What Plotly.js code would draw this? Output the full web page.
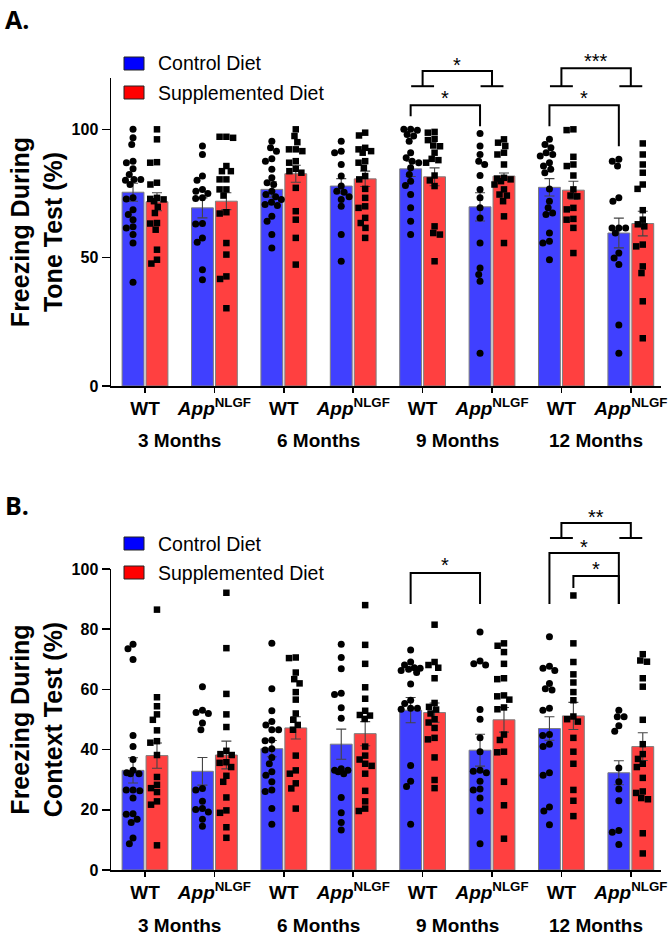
<!DOCTYPE html>
<html><head><meta charset="utf-8">
<script src="https://cdn.plot.ly/plotly-3.0.1.min.js"></script>
<style>html,body{margin:0;padding:0;background:#fff}#chart{width:672px;height:940px}</style>
</head><body><div id="chart"></div>
<script>
// ---------------- DATA ----------------
const positions = [0, 1, 2, 3, 4, 5, 6, 7];
const genotypeLabels = ['WT', '<i>App</i><sup>NLGF</sup>', 'WT', '<i>App</i><sup>NLGF</sup>',
                        'WT', '<i>App</i><sup>NLGF</sup>', 'WT', '<i>App</i><sup>NLGF</sup>'];
const monthLabels = ['3 Months', '6 Months', '9 Months', '12 Months'];
const seriesNames = ['Control Diet', 'Supplemented Diet'];

// Panel A: Freezing during tone test (%)
const toneControlMean = [75.5, 69.4, 76.6, 77.9, 84.6, 69.8, 77.4, 59.6];
const toneControlSem  = [3.5, 3.9, 3.0, 2.9, 3.0, 5.5, 3.4, 5.8];
const toneSupplMean   = [71.8, 72.0, 82.7, 80.7, 81.5, 81.8, 76.3, 63.3];
const toneSupplSem    = [3.5, 3.3, 3.3, 3.0, 3.5, 1.2, 3.5, 4.8];

const toneControlPoints = [
  [100, 96.7, 94.1, 87.6, 87, 84.6, 82.4, 80.5, 80.5, 80.2, 78.5, 73.3, 72.9, 68.7, 66.8, 64.8, 62, 61.6, 59, 55.7, 40.4],
  [93.5, 90.2, 81.8, 80.2, 76.6, 75.9, 75, 73.3, 73.1, 63.3, 63.1, 57.7, 56, 45.3, 41.4],
  [95.4, 92.8, 91.5, 88.5, 87.6, 84.4, 81.1, 79.2, 78.5, 75.9, 74.6, 73.7, 72.7, 71.6, 70.7, 70.3, 66.1, 64.2, 59, 53.8],
  [95.4, 91.5, 90.9, 86.3, 81.8, 77.9, 75.9, 75.5, 73.7, 72.7, 70, 59, 48.6],
  [100, 100, 99.6, 98, 97.4, 95.4, 90.9, 88.9, 87.6, 87, 85, 82.4, 79.8, 78.1, 74.6, 69.4, 64.2, 59],
  [98.4, 93.5, 90.2, 87.6, 86.3, 82, 76.6, 73.3, 69.4, 65.5, 55.7, 46, 43.4, 40.8, 12.8],
  [96.1, 94.1, 92.8, 90.9, 90.2, 89.6, 87, 85.7, 84.4, 83.1, 76.8, 72, 69.4, 67.4, 66.8, 59.6, 56.4, 55.7, 49.2],
  [88.3, 87.6, 85.7, 73.3, 72, 61.6, 61.6, 61.6, 59.6, 51.8, 49.9, 47.3, 23.8, 12.8]
];
const toneSupplPoints = [
  [100, 96.1, 87.2, 87, 79.2, 78.5, 73.3, 72.9, 72.7, 72, 69.8, 67.4, 63.5, 63.3, 60.9, 53.1, 49.2, 47.7],
  [97.1, 97.1, 96.7, 85.7, 83.7, 83.7, 80.5, 80.5, 76.6, 76.6, 74.2, 67.7, 67.2, 55.7, 51.2, 42.7, 41.7, 30.3],
  [100, 97.4, 95, 92.2, 92.2, 91.5, 87.6, 87, 84.6, 83.7, 83.1, 77.2, 68.1, 64.8, 57.7, 47.3],
  [98.7, 97.6, 92.8, 92.2, 91.5, 90.9, 87.6, 87, 85, 81.8, 80.5, 76.8, 73.3, 70, 69.4, 65.5, 63.5, 61.6, 57.7],
  [99, 98.7, 96.3, 95.8, 93.7, 93.4, 90.9, 88.5, 88, 87, 82, 80.1, 77.9, 62.2, 59.6, 59, 48.6],
  [96.1, 94.8, 93.5, 90.9, 90.2, 86.3, 81.1, 80.8, 80.5, 79.8, 78.5, 76.6, 74.6, 74.2, 72, 66.1, 55.7],
  [100, 99.7, 89.3, 86.3, 85.7, 82, 76.6, 74.2, 73.9, 69.4, 68.8, 65.1, 64.8, 61.6, 51.8],
  [94.5, 90.2, 86.3, 83.1, 78.5, 76.8, 68.5, 64.8, 63, 62.2, 55.1, 54.4, 46.6, 44, 33, 18.6]
];

// Panel B: Freezing during context test (%)
const ctxControlMean = [33.1, 32.8, 40.3, 41.8, 53.1, 39.8, 47.0, 32.3];
const ctxControlSem  = [4.2, 4.6, 2.7, 5.0, 4.2, 5.3, 3.9, 4.0];
const ctxSupplMean   = [38.0, 38.2, 47.2, 45.3, 52.3, 49.9, 51.2, 41.0];
const ctxSupplSem    = [4.2, 4.6, 3.7, 4.0, 3.2, 4.1, 4.5, 4.6];

const ctxControlPoints = [
  [75, 73.5, 69.9, 44.7, 41, 36.7, 33.1, 32, 32, 32.3, 26.6, 26.3, 26.6, 23.9, 18.7, 18.5, 16.9, 15.8, 10.6, 8.7],
  [60.9, 53.1, 52.3, 52, 48.8, 46.6, 27.1, 26.6, 22.8, 20.1, 20.4, 19.3, 16.9, 14.5],
  [75.3, 60.2, 52.9, 49.3, 48.2, 46.6, 46.6, 43.2, 42.9, 40.3, 39.9, 37.4, 35.3, 32.6, 31.5, 29.3, 26.6, 26.1, 20.4, 15.2],
  [75, 70.6, 66.9, 58.7, 58.3, 53.9, 50.4, 33.6, 33.1, 33.1, 32.6, 32, 24.1, 19, 15.8, 13.3],
  [73.1, 69.1, 68.1, 67.2, 67, 66.7, 66.3, 65.6, 61.8, 56.4, 55.3, 53.7, 53.7, 53.4, 34.7, 29.5, 27.7, 15.2],
  [79.1, 69.4, 68.5, 68.1, 53.3, 50.1, 43.9, 39.3, 33.1, 32.8, 32.3, 29.5, 26.9, 26.6, 23.9, 19.6, 8.7],
  [77.5, 67.7, 67, 66.3, 62, 60.2, 59.8, 53.7, 53.1, 45, 44.7, 41.8, 41, 32.3, 31.5, 20.9, 19.6, 15],
  [53.1, 50.9, 50.9, 47.9, 46.1, 33.9, 29.3, 26.9, 23, 13.1, 12.5, 8.5]
];
const ctxSupplPoints = [
  [86.5, 57.4, 54.4, 51.7, 49.9, 46.4, 42.8, 42.3, 38.2, 30.9, 28.3, 27.2, 25.9, 22.8, 21.7, 8.2],
  [92.1, 73.7, 58.5, 51.7, 47.5, 39.6, 38.5, 38.2, 35.8, 35.6, 34.2, 31.3, 29.3, 24.1, 19.8, 19, 14.2, 10.7],
  [70.6, 70.4, 65.6, 63.4, 62, 59.1, 56.6, 52, 49.9, 48.2, 46.6, 38, 33.1, 32, 28.8, 27.1, 20.4],
  [88, 74.8, 68.5, 60.7, 56.9, 52.9, 51.5, 51.3, 50.2, 41, 38, 36.7, 35.3, 34.6, 32, 26.3, 22.8, 20.4, 19.6],
  [81.5, 69.1, 68.1, 67.2, 63.7, 55.5, 54.2, 53.3, 52, 50.1, 49, 47.2, 43.9, 43.4, 37.4, 29.9, 27.2],
  [75.3, 74.5, 72.4, 68.5, 63.7, 63.4, 58, 57.7, 56.6, 54, 53.4, 45, 43.2, 39.3, 39.1, 29.3, 21.5, 10.4],
  [91.2, 75.3, 69.1, 65, 62.3, 59.1, 56.4, 51, 50.1, 49.3, 43.9, 39.3, 35.3, 26.6, 23, 17.9],
  [71.7, 69.6, 69.2, 63.7, 60.9, 49.9, 41.8, 38.5, 36.9, 35.3, 34.2, 30.6, 26.1, 25.6, 23.9, 23.5, 12.2, 5.5]
];

// Significance comparisons: side -1 = control bar, +1 = supplemented bar, 0 = genotype group
const toneComparisons = [
  {a: [4, 0], b: [5, 0], top: 122.7, endA: 116.8, endB: 116.8, feet: true, label: '*', labelY: 127},
  {a: [4, -1], b: [5, -1], top: 109.4, endA: 105.1, endB: 101.2, label: '*', labelY: 114},
  {a: [6, 0], b: [7, 0], top: 123.8, endA: 116.8, endB: 116.8, feet: true, label: '***', labelY: 128.5},
  {a: [6, -1], b: [7, -1], top: 109.4, endA: 101.2, endB: 93.4, label: '*', labelY: 114}
];
const ctxComparisons = [
  {a: [4, -1], b: [5, -1], top: 98.7, endA: 88.4, endB: 88.4, label: '*', labelY: 103},
  {a: [6, 0], b: [7, 0], top: 115.3, endA: 110.3, endB: 110.3, feet: true, label: '**', labelY: 118.9},
  {a: [6, -1], b: [7, -1], top: 105.3, endA: 88.4, endB: 88.4, label: '*', labelY: 109},
  {a: [6, 1], b: [7, -1], top: 97.7, endA: 93.7, endB: 88.4, label: '*', labelY: 101.7}
];

// ---------------- GEOMETRY / STYLE ----------------
const W = 672, H = 940;
const FONT = 'Liberation Sans, Arial, Helvetica, sans-serif';
const BLUE = 'rgb(64,64,255)', RED = 'rgb(255,64,64)';
const xDomPx = [111, 661];
const xRange = [-0.49, 7.435];
const xPxPerUnit = (xDomPx[1] - xDomPx[0]) / (xRange[1] - xRange[0]);
const BW = 0.315, GAP = 0.015;
const sideOffset = GAP + BW / 2;
const P = py => 1 - py / H;

const panelA = {zeroPx: 386, topPx: 78, max: 120, ticks: [0, 50, 100], extTopPx: 40,
  title: 'Freezing During<br>Tone Test (%)'};
const panelB = {zeroPx: 870, topPx: 569, max: 100, ticks: [0, 20, 40, 60, 80, 100], extTopPx: 492,
  title: 'Freezing During<br>Context Test (%)'};
[panelA, panelB].forEach(p => { p.pxPerY = (p.zeroPx - p.topPx) / p.max; });

function swarm(vals, pxPerY, d, maxW) {
  const order = vals.map((v, i) => i).sort((a, b) => vals[b] - vals[a]);
  const placed = [], off = new Array(vals.length).fill(0);
  order.forEach(i => {
    const y = vals[i] * pxPerY;
    const near = placed.filter(p => Math.abs(p.y - y) < d);
    const cands = [0];
    near.forEach(p => {
      const dx = Math.sqrt(d * d - (p.y - y) ** 2);
      cands.push(p.x + dx, p.x - dx);
    });
    cands.sort((a, b) => Math.abs(a) - Math.abs(b) || a - b);
    let best = null;
    for (const c of cands) {
      if (Math.abs(c) > maxW + 1e-6) continue;
      if (near.every(p => (p.x - c) ** 2 + (p.y - y) ** 2 >= d * d - 1e-6)) { best = c; break; }
    }
    if (best === null) {
      let score = -1;
      for (let c = -maxW; c <= maxW + 1e-9; c += 0.5) {
        const m = Math.min(...near.map(p => Math.hypot(p.x - c, p.y - y)));
        if (m > score) { score = m; best = c; }
      }
    }
    off[i] = best;
    placed.push({x: best, y});
  });
  return off;
}

function pointsTrace(groups, side, panel, xa, ya, symbol, name) {
  const xs = [], ys = [];
  groups.forEach((vals, g) => {
    const off = swarm(vals, panel.pxPerY, 6.8, 9.5);
    vals.forEach((v, i) => { xs.push(positions[g] + side * sideOffset + off[i] / xPxPerUnit); ys.push(v); });
  });
  return {type: 'scatter', mode: 'markers', x: xs, y: ys, xaxis: xa, yaxis: ya, cliponaxis: false, name,
    marker: {symbol, size: symbol === 'square' ? 6.5 : 7, color: '#000'}, hoverinfo: 'y', showlegend: false};
}

function barTrace(mean, sem, side, xa, ya, color, name) {
  return {type: 'bar', x: positions, y: mean, xaxis: xa, yaxis: ya, name,
    width: BW, offset: side < 0 ? -(GAP + BW) : GAP,
    marker: {color, line: {color: 'rgb(125,125,125)', width: 1}},
    error_y: {type: 'data', array: sem, visible: true, color: '#444', thickness: 1.1, width: 5},
    showlegend: false};
}

const traces = [
  barTrace(toneControlMean, toneControlSem, -1, 'x', 'y', BLUE, seriesNames[0]),
  barTrace(toneSupplMean, toneSupplSem, 1, 'x', 'y', RED, seriesNames[1]),
  pointsTrace(toneControlPoints, -1, panelA, 'x', 'y', 'circle', seriesNames[0]),
  pointsTrace(toneSupplPoints, 1, panelA, 'x', 'y', 'square', seriesNames[1]),
  barTrace(ctxControlMean, ctxControlSem, -1, 'x2', 'y2', BLUE, seriesNames[0]),
  barTrace(ctxSupplMean, ctxSupplSem, 1, 'x2', 'y2', RED, seriesNames[1]),
  pointsTrace(ctxControlPoints, -1, panelB, 'x2', 'y2', 'circle', seriesNames[0]),
  pointsTrace(ctxSupplPoints, 1, panelB, 'x2', 'y2', 'square', seriesNames[1]),
  {type: 'scatter', x: [null], y: [null], xaxis: 'x3', yaxis: 'y3', showlegend: false, hoverinfo: 'skip'},
  {type: 'scatter', x: [null], y: [null], xaxis: 'x4', yaxis: 'y4', showlegend: false, hoverinfo: 'skip'}
];

function xAxisCfg(anchor) {
  return {domain: [xDomPx[0] / W, xDomPx[1] / W], range: xRange, anchor,
    tickmode: 'array', tickvals: positions, ticktext: genotypeLabels.map(t => '<b>' + t + '</b>'),
    ticks: 'outside', ticklen: 5, tickwidth: 1.5, tickcolor: '#000',
    showline: true, linewidth: 1.5, linecolor: '#000', showgrid: false, zeroline: false,
    tickfont: {family: FONT, size: 19, color: '#000'}, fixedrange: true};
}
function yAxisCfg(p, anchor) {
  return {domain: [P(p.zeroPx), P(p.topPx)], range: [0, p.max], anchor,
    tickmode: 'array', tickvals: p.ticks, ticktext: p.ticks.map(t => '<b>' + t + '</b>'),
    ticks: 'outside', ticklen: 8, tickwidth: 1.5, tickcolor: '#000',
    showline: true, linewidth: 1.5, linecolor: '#000', showgrid: false, zeroline: false,
    tickfont: {family: FONT, size: 16, color: '#000'},
    title: {text: '<b>' + p.title.replace('<br>', '</b><br><b>') + '</b>',
      font: {family: FONT, size: 25, color: '#000'}, standoff: 2}, fixedrange: true};
}
function hiddenX(anchor) {
  return {domain: [xDomPx[0] / W, xDomPx[1] / W], range: xRange, anchor, visible: false, fixedrange: true};
}
function hiddenY(p, anchor) {
  return {domain: [P(p.zeroPx), P(p.extTopPx)], range: [0, (p.zeroPx - p.extTopPx) / p.pxPerY],
    anchor, visible: false, fixedrange: true};
}

const shapes = [], annotations = [];
function addComparisons(list, xa, ya) {
  const footHalf = 0.165;
  list.forEach(c => {
    const xa0 = positions[c.a[0]] + c.a[1] * sideOffset;
    const xb0 = positions[c.b[0]] + c.b[1] * sideOffset;
    shapes.push({type: 'path', xref: xa, yref: ya,
      path: `M${xa0},${c.endA} L${xa0},${c.top} L${xb0},${c.top} L${xb0},${c.endB}`,
      line: {color: '#000', width: 2}});
    if (c.feet) {
      [xa0, xb0].forEach((xx, k) => {
        const e = k === 0 ? c.endA : c.endB;
        shapes.push({type: 'line', xref: xa, yref: ya, x0: xx - footHalf, x1: xx + footHalf, y0: e, y1: e,
          line: {color: '#000', width: 2}});
      });
    }
    annotations.push({xref: xa, yref: ya, x: (xa0 + xb0) / 2, y: c.labelY, text: c.label, showarrow: false,
      xanchor: 'center', yanchor: 'middle', yshift: -5, font: {family: FONT, size: 20, color: '#000'}});
  });
}
addComparisons(toneComparisons, 'x3', 'y3');
addComparisons(ctxComparisons, 'x4', 'y4');

function addLegend(topPx) {
  const colors = ['rgb(0,0,255)', 'rgb(255,0,0)'];
  seriesNames.forEach((n, k) => {
    const t = topPx + k * 29;
    shapes.push({type: 'rect', xref: 'paper', yref: 'paper', x0: 124 / W, x1: 144 / W, y0: P(t + 13), y1: P(t),
      fillcolor: colors[k], line: {color: '#222', width: 1}});
    annotations.push({xref: 'paper', yref: 'paper', x: 156 / W, y: P(t + 6.5), xanchor: 'left', yanchor: 'middle',
      text: n, showarrow: false, font: {family: FONT, size: 19.5, color: '#000'}});
  });
}
addLegend(57);
addLegend(537);

function addMonths(xa, ya) {
  monthLabels.forEach((m, k) => {
    annotations.push({xref: xa, yref: ya + ' domain', x: positions[2 * k] + 0.5, y: 0, yshift: -55,
      xanchor: 'center', yanchor: 'middle', text: '<b>' + m + '</b>', showarrow: false,
      font: {family: FONT, size: 19, color: '#000'}});
  });
}
addMonths('x', 'y');
addMonths('x2', 'y2');

annotations.push({xref: 'paper', yref: 'paper', x: 3 / W, y: P(0), xanchor: 'left', yanchor: 'top',
  text: '<b>A.</b>', showarrow: false, font: {family: 'Open Sans, Liberation Sans, Arial', size: 25, color: '#000'}});
annotations.push({xref: 'paper', yref: 'paper', x: 3 / W, y: P(486), xanchor: 'left', yanchor: 'top',
  text: '<b>B.</b>', showarrow: false, font: {family: 'Open Sans, Liberation Sans, Arial', size: 25, color: '#000'}});

const layout = {
  width: W, height: H, margin: {l: 0, r: 0, t: 0, b: 0},
  paper_bgcolor: '#fff', plot_bgcolor: 'rgba(0,0,0,0)', showlegend: false, barmode: 'overlay',
  font: {family: FONT, color: '#000'},
  xaxis: xAxisCfg('y'), yaxis: yAxisCfg(panelA, 'x'),
  xaxis2: xAxisCfg('y2'), yaxis2: yAxisCfg(panelB, 'x2'),
  xaxis3: hiddenX('y3'), yaxis3: hiddenY(panelA, 'x3'),
  xaxis4: hiddenX('y4'), yaxis4: hiddenY(panelB, 'x4'),
  shapes, annotations
};

Plotly.newPlot('chart', traces, layout, {displayModeBar: false, staticPlot: true});
</script></body></html>
